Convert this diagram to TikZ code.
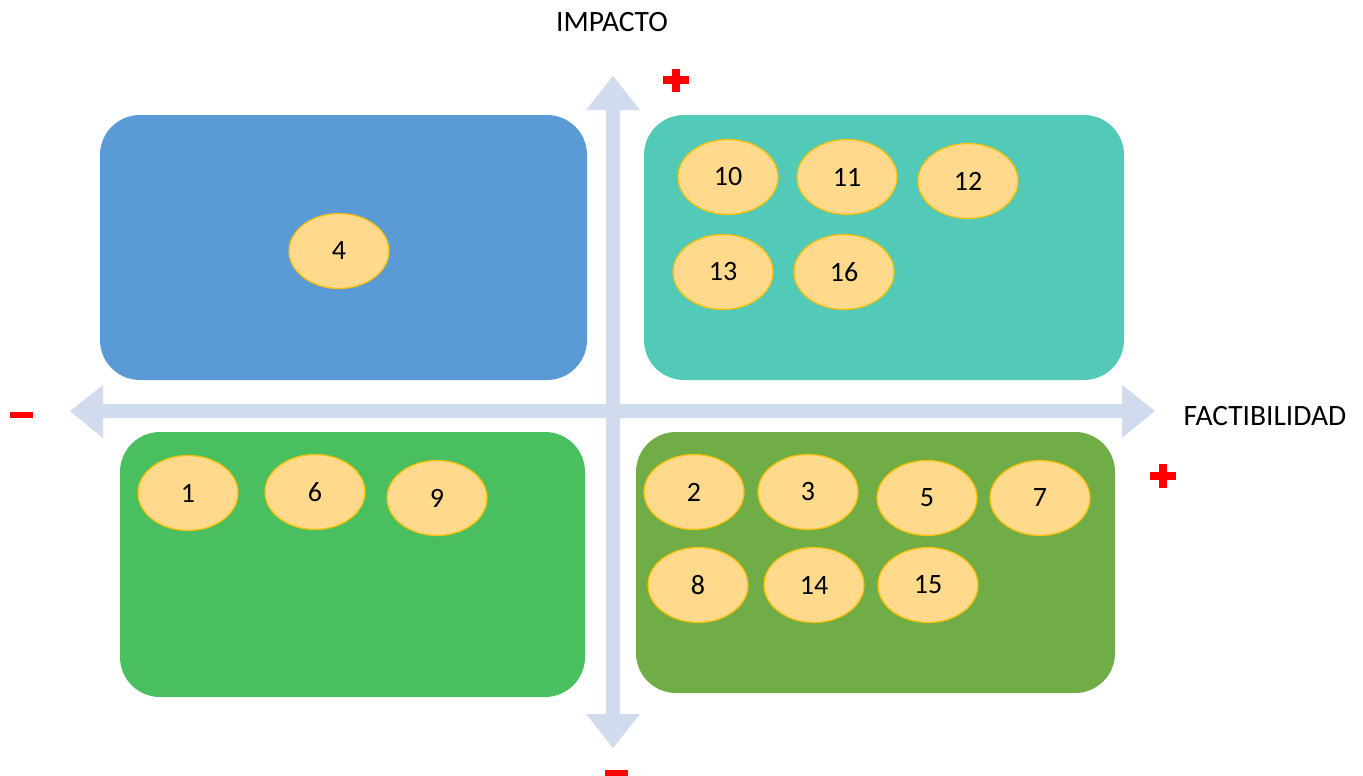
\documentclass[tikz,border=0pt]{standalone}
\usepackage{fontspec}
\setmainfont{Carlito}
\usetikzlibrary{shapes.geometric}
\definecolor{axiscol}{HTML}{D0DBEE}
\definecolor{qblue}{HTML}{5B9BD5}
\definecolor{qteal}{HTML}{53CAB8}
\definecolor{qgreen}{HTML}{4ABF5F}
\definecolor{qolive}{HTML}{70AD47}
\definecolor{ellfill}{HTML}{FFD98C}
\definecolor{elldraw}{HTML}{FFC000}
\definecolor{signred}{HTML}{FF0000}
\tikzset{
  quad/.style={rounded corners=40pt},
  item/.style={ellipse, draw=elldraw, line width=1.2pt, fill=ellfill,
    minimum width=100pt, minimum height=75pt, inner sep=0pt,
    font=\fontsize{28}{32}\selectfont},
  axislabel/.style={font=\fontsize{29.5}{34}\selectfont, inner sep=0pt},
  sign/.style={fill=signred, draw=none}
}
\begin{document}
\begin{tikzpicture}[x=1pt,y=1pt]
\useasboundingbox (0,0) rectangle (1363,-776);
% quadrants
\fill[qblue, quad] (100,-115) rectangle (587,-380);
\fill[qteal, quad] (644,-115) rectangle (1124,-380);
\fill[qgreen, quad] (120,-432) rectangle (585,-697);
\fill[qolive, quad] (636,-432) rectangle (1115,-693);
% axes
\fill[axiscol] (613,-76) -- (640,-110) -- (620,-110) -- (620,-714) -- (640,-714)
  -- (613,-748) -- (586,-714) -- (606,-714) -- (606,-110) -- (586,-110) -- cycle;
\fill[axiscol] (70,-411) -- (103,-385) -- (103,-404) -- (1122,-404) -- (1122,-385)
  -- (1155,-411) -- (1122,-438) -- (1122,-418) -- (103,-418) -- (103,-438) -- cycle;
% axis labels
\node[axislabel] (impacto) at (612,-22) {IMPACTO};
\node[axislabel] (fact) at (1265,-416) {FACTIBILIDAD};
% signs
\fill[sign] (663,-76) rectangle (689,-84);
\fill[sign] (672,-69) rectangle (680,-92);
\fill[sign] (1150,-472) rectangle (1176,-480);
\fill[sign] (1159,-464) rectangle (1167,-488);
\fill[sign] (10,-412) rectangle (33,-418);
\fill[sign] (605,-770) rectangle (628,-776);
% items
\node[item] (n4) at (339,-251) {4};
\node[item] (n10) at (728,-177) {10};
\node[item] (n11) at (847,-177) {11};
\node[item] (n12) at (968,-181) {12};
\node[item] (n13) at (723,-272) {13};
\node[item] (n16) at (844,-272) {16};
\node[item] (n1) at (188,-493) {1};
\node[item] (n6) at (315,-492) {6};
\node[item] (n9) at (437,-498) {9};
\node[item] (n2) at (694,-492) {2};
\node[item] (n3) at (808,-492) {3};
\node[item] (n5) at (927,-498) {5};
\node[item] (n7) at (1040,-498) {7};
\node[item] (n8) at (698,-585) {8};
\node[item] (n14) at (814,-585) {14};
\node[item] (n15) at (928,-585) {15};
\end{tikzpicture}
\end{document}
